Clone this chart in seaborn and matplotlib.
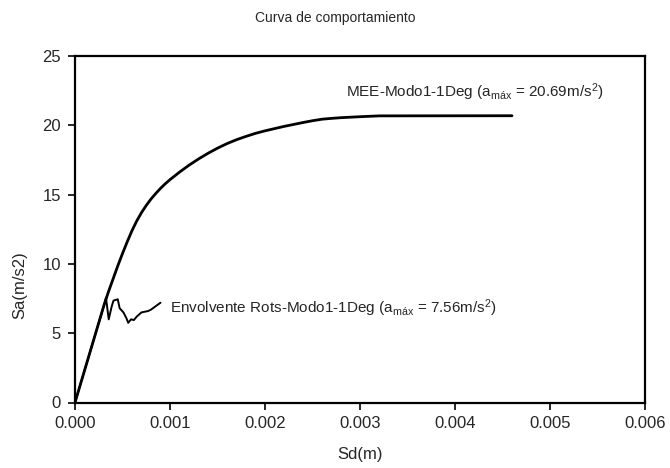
import matplotlib
matplotlib.use("Agg")
import pandas as pd
import seaborn as sns
import matplotlib.pyplot as plt

# MEE-Modo1-1Deg capacity curve
mee_sd = [0.0, 0.0001, 0.0002, 0.0003, 0.00035, 0.0004, 0.00045, 0.0005, 0.00055,
          0.0006, 0.00065, 0.0007, 0.00075, 0.0008, 0.00085, 0.0009, 0.00095, 0.0010,
          0.0011, 0.0012, 0.0013, 0.0014, 0.0015, 0.0016, 0.0017, 0.0018, 0.0019,
          0.0020, 0.0021, 0.0022, 0.0023, 0.0024, 0.0025, 0.0026, 0.0027,
          0.0028, 0.0030, 0.0032, 0.0046]
mee_sa = [0.0, 2.3, 4.6, 6.9, 7.95, 8.9, 9.85, 10.75, 11.6,
          12.4, 13.1, 13.7, 14.22, 14.68, 15.08, 15.45, 15.78, 16.08,
          16.62, 17.12, 17.57, 17.98, 18.35, 18.68, 18.96, 19.2, 19.42,
          19.6, 19.76, 19.92, 20.06, 20.2, 20.33, 20.44, 20.5,
          20.55, 20.62, 20.68, 20.69]

# Envolvente Rots-Modo1-1Deg
env_sd = [0.0, 0.0001, 0.0002, 0.0003, 0.000326, 0.000355, 0.000385, 0.000405,
          0.00045, 0.00047, 0.00051, 0.00054, 0.00056, 0.00059, 0.00062,
          0.00065, 0.0007, 0.00077, 0.0008, 0.00085, 0.0009]
env_sa = [0.0, 2.3, 4.6, 6.9, 7.56, 6.0, 6.9, 7.35,
          7.45, 6.8, 6.5, 6.1, 5.75, 6.0, 5.95,
          6.2, 6.5, 6.6, 6.7, 6.95, 7.2]

x_ticks = [0.000, 0.001, 0.002, 0.003, 0.004, 0.005, 0.006]
y_ticks = [0, 5, 10, 15, 20, 25]

sns.set_style("ticks")
plt.rcParams["font.family"] = ["Liberation Sans", "DejaVu Sans"]
plt.rcParams["mathtext.fontset"] = "custom"
plt.rcParams["mathtext.rm"] = "Liberation Sans"
plt.rcParams["mathtext.it"] = "Liberation Sans"

fig = plt.figure(figsize=(6.7, 4.68), dpi=100)
ax = fig.add_axes([75 / 670, 1 - 402.5 / 468, 570 / 670, 346.5 / 468])

mee = pd.DataFrame({"Sd": mee_sd, "Sa": mee_sa})
env = pd.DataFrame({"Sd": env_sd, "Sa": env_sa})
sns.lineplot(data=mee, x="Sd", y="Sa", sort=False, color="black", linewidth=2.0, ax=ax)
sns.lineplot(data=env, x="Sd", y="Sa", sort=False, color="black", linewidth=1.4, ax=ax)

ax.set_xlim(0, 0.006)
ax.set_ylim(0, 25)
ax.set_xticks(x_ticks)
ax.set_xticklabels([f"{v:.3f}" for v in x_ticks])
ax.set_yticks(y_ticks)
ax.tick_params(direction="out", length=5, width=1.2, labelsize=12, color="black", pad=5)
for s in ax.spines.values():
    s.set_visible(True)
    s.set_linewidth(1.6)
    s.set_color("black")

ax.set_xlabel("Sd(m)", fontsize=12)
ax.xaxis.set_label_coords(0.5, -45 / 346.5)
ax.set_ylabel("Sa(m/s2)", fontsize=12)
ax.yaxis.set_label_coords(-48 / 570, 0.34)
fig.text(0.5, 1 - 18 / 468, "Curva de comportamiento", ha="center", va="center", fontsize=10)

ax.text(0.00285, 22.4, r"MEE-Modo1-1Deg (a$_{\mathrm{máx}}$ = 20.69m/s$^{2}$)",
        fontsize=11, va="center", ha="left")
ax.text(0.001, 6.8, r"Envolvente Rots-Modo1-1Deg (a$_{\mathrm{máx}}$ = 7.56m/s$^{2}$)",
        fontsize=11, va="center", ha="left")

fig.savefig("out.png", dpi=100)
